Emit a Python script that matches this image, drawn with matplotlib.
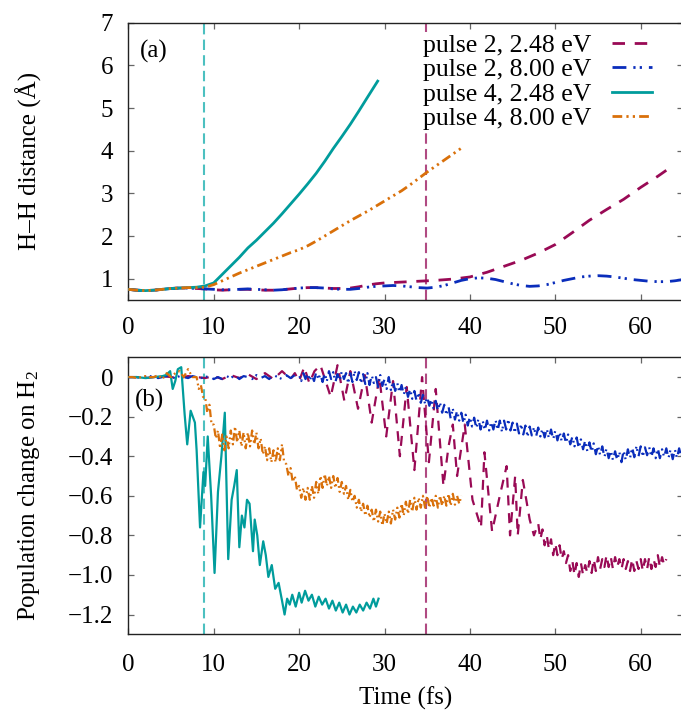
import numpy as np
import matplotlib
matplotlib.use("Agg")
import matplotlib.pyplot as plt

plt.rcParams["font.family"] = ["Liberation Serif", "DejaVu Serif"]
plt.rcParams["mathtext.fontset"] = "custom"
plt.rcParams["mathtext.rm"] = "Liberation Serif"
plt.rcParams["mathtext.default"] = "regular"

MAROON = "#990a55"
BLUE = "#0a2dbb"
TEAL = "#009c9c"
ORANGE = "#d9700a"

LABELS = ["pulse 2, 2.48 eV", "pulse 2, 8.00 eV", "pulse 4, 2.48 eV", "pulse 4, 8.00 eV"]
MARK_TIMES = [8.9, 34.9]          # dashed vertical markers (fs)

# ---- panel (a): H-H distance (Angstrom) ----
a_p2_low_t = [0, 1, 2, 3, 4, 5, 6, 7, 8, 9, 10, 11, 12, 13, 14, 15, 16, 17, 18, 19,
              20, 21, 22, 23, 24, 25, 26, 27, 28, 29, 30, 32, 34, 36, 38, 40, 42, 44,
              46, 48, 50, 52, 54, 56, 58, 60, 62, 63]
a_p2_low = [0.75, 0.73, 0.72, 0.73, 0.75, 0.77, 0.78, 0.78, 0.77, 0.76, 0.74, 0.73,
            0.74, 0.75, 0.75, 0.74, 0.73, 0.73, 0.74, 0.76, 0.78, 0.79, 0.79, 0.78,
            0.77, 0.77, 0.78, 0.81, 0.85, 0.88, 0.90, 0.92, 0.94, 0.96, 0.99, 1.04,
            1.15, 1.29, 1.43, 1.60, 1.80, 2.08, 2.37, 2.62, 2.86, 3.14, 3.40, 3.54]

a_p2_high_t = list(range(0, 66))
a_p2_high = [0.75, 0.73, 0.72, 0.73, 0.75, 0.77, 0.78, 0.78, 0.77, 0.76, 0.75, 0.74,
             0.74, 0.75, 0.76, 0.75, 0.74, 0.73, 0.74, 0.76, 0.78, 0.79, 0.79, 0.78,
             0.76, 0.75, 0.75, 0.77, 0.80, 0.82, 0.83, 0.84, 0.83, 0.81, 0.79, 0.78,
             0.80, 0.84, 0.90, 0.96, 1.00, 1.02, 1.01, 0.98, 0.93, 0.88, 0.84, 0.82,
             0.83, 0.86, 0.91, 0.96, 1.00, 1.04, 1.06, 1.07, 1.06, 1.04, 1.01, 0.98,
             0.96, 0.94, 0.93, 0.93, 0.95, 0.98]

a_p4_low_t = [0, 1, 2, 3, 4, 5, 6, 7, 8, 9, 10, 11, 12, 13, 14, 15, 16, 17, 18, 19,
              20, 21, 22, 23, 24, 25, 26, 27, 28, 29.2]
a_p4_low = [0.75, 0.73, 0.72, 0.73, 0.75, 0.77, 0.78, 0.79, 0.80, 0.83, 0.90, 1.10,
            1.30, 1.50, 1.72, 1.90, 2.10, 2.30, 2.52, 2.75, 2.98, 3.22, 3.47, 3.75,
            4.05, 4.33, 4.62, 4.93, 5.25, 5.63]

a_p4_high_t = list(range(0, 40))
a_p4_high = [0.75, 0.73, 0.72, 0.73, 0.75, 0.77, 0.78, 0.79, 0.79, 0.80, 0.86, 0.95,
             1.04, 1.13, 1.21, 1.29, 1.37, 1.45, 1.53, 1.61, 1.68, 1.77, 1.88, 2.00,
             2.12, 2.24, 2.36, 2.47, 2.58, 2.70, 2.82, 2.94, 3.06, 3.20, 3.35, 3.50,
             3.64, 3.78, 3.92, 4.06]

# ---- panel (b): population change on H2 ----
b_p2_low_t = ([0, 1, 2, 3, 4, 5, 6, 7, 8, 9, 10, 11, 12, 13, 14, 15, 16, 17, 18, 19,
               19.5, 20, 20.6, 21.2, 21.8, 22.5, 23.1, 23.7, 24.5, 25.3, 26.0, 26.9,
               27.7, 28.5, 29.4, 30.2, 31.0, 31.8, 32.6, 33.5, 34.4, 35.2, 36.0, 36.9,
               37.5, 38.0, 38.5, 39.4, 40.3, 41.3, 41.7, 42.6, 43.5, 44.3, 44.7, 45.3,
               45.6, 46.2, 46.6, 47.0, 47.5]
              + [48 + 0.25 * i for i in range(61)])
b_p2_low = [0.0, 0.0, -0.005, 0.0, 0.005, 0.0, -0.005, 0.005, 0.0, -0.005, 0.005,
            -0.01, 0.01, -0.005, 0.015, -0.01, 0.02, -0.01, 0.03, -0.01,
            0.02, -0.02, 0.05, -0.03, 0.03, 0.06, -0.02, -0.10, 0.06, -0.12, 0.03,
            -0.16, 0.01, -0.23, 0.0, -0.30, -0.02, -0.40, -0.05, -0.47, 0.0, -0.43,
            -0.06, -0.55, -0.35, -0.24, -0.50, -0.24, -0.62, -0.76, -0.38, -0.78,
            -0.60, -0.45, -0.80, -0.50, -0.80, -0.52, -0.62, -0.72, -0.80,
            -0.74, -0.82, -0.77, -0.85,  -0.80, -0.87, -0.82, -0.90,
            -0.84, -0.90, -0.85, -0.92,  -0.88, -0.94, -0.90, -0.98,
            -0.93, -1.00, -0.94, -1.01,  -0.94, -1.00, -0.95, -0.99,
            -0.93, -0.99, -0.92, -0.98,  -0.91, -0.97, -0.92, -0.96,
            -0.90, -0.96, -0.91, -0.97,  -0.91, -0.96, -0.92, -0.97,
            -0.92, -0.97, -0.93, -0.98,  -0.92, -0.98, -0.93, -0.97,
            -0.92, -0.98, -0.92, -0.97,  -0.91, -0.97, -0.92, -0.96,
            -0.90, -0.96, -0.91, -0.95,  -0.92]

b_p2_high_t = [i * 0.5 for i in range(40)] + [20 + 0.25 * i for i in range(181)]
b_p2_high = [0.0, 0.0, 0.0, -0.005, 0.0, 0.005, 0.0, -0.005, 0.0, 0.005,
             0.0, -0.005, 0.005, 0.0, -0.005, 0.005, 0.0, -0.005, 0.0, 0.005,
             -0.01, 0.0, -0.01, 0.005, -0.005, 0.01, -0.01, 0.005, 0.0, -0.01,
             0.01, -0.005, 0.005, -0.01, 0.01, 0.0, -0.01, 0.01, -0.005, 0.01,
             0.01, -0.02, 0.02, -0.01,  0.02, -0.015, 0.01, -0.02,
             0.025, -0.01, 0.015, -0.025,  0.02, -0.02, 0.03, -0.01,
             0.025, -0.025, 0.015, -0.02,  0.03, -0.01, 0.02, -0.03,
             0.02, -0.025, 0.03, -0.015,  0.025, -0.03, 0.015, -0.035,
             0.02, -0.04, 0.01, -0.03,  0.0, -0.05, 0.01, -0.045,
             -0.01, -0.06, 0.0, -0.065,  -0.02, -0.07, -0.03, -0.08,
             -0.04, -0.09, -0.05, -0.10,  -0.06, -0.11, -0.07, -0.12,
             -0.08, -0.13, -0.09, -0.135,  -0.10, -0.145, -0.11, -0.16,
             -0.12, -0.17, -0.13, -0.18,  -0.14, -0.19, -0.15, -0.21,
             -0.16, -0.215, -0.17, -0.22,  -0.18, -0.235, -0.19, -0.245,
             -0.20, -0.25, -0.205, -0.26,  -0.21, -0.265, -0.22, -0.27,
             -0.22, -0.27, -0.225, -0.265,  -0.215, -0.27, -0.22, -0.275,
             -0.22, -0.265, -0.215, -0.27,  -0.23, -0.28, -0.235, -0.285,
             -0.24, -0.29, -0.245, -0.30,  -0.25, -0.295, -0.255, -0.30,
             -0.255, -0.30, -0.26, -0.305,  -0.26, -0.31, -0.265, -0.315,
             -0.27, -0.32, -0.275, -0.325,  -0.285, -0.335, -0.29, -0.34,
             -0.30, -0.35, -0.305, -0.36,  -0.315, -0.365, -0.32, -0.375,
             -0.33, -0.38, -0.335, -0.39,  -0.345, -0.395, -0.35, -0.405,
             -0.36, -0.41, -0.37, -0.42,  -0.375, -0.42, -0.38, -0.43,
             -0.37, -0.42, -0.365, -0.41,  -0.355, -0.405, -0.35, -0.40,
             -0.35, -0.40, -0.355, -0.395,  -0.355, -0.405, -0.36, -0.41,
             -0.36, -0.41, -0.365, -0.405,  -0.36, -0.41, -0.365, -0.415,
             -0.365, -0.41, -0.36, -0.405,  -0.37]

b_p4_low_t = [0, 1, 2, 3, 4, 4.4, 4.9, 5.2, 5.5, 5.8, 6.2, 6.6, 6.9, 7.3, 7.8, 8.0,
              8.4, 8.8, 9.0, 9.3, 9.7, 10.1, 10.5, 10.9, 11.3, 11.7, 12.1, 12.4, 12.7,
              13.0, 13.3, 13.6, 13.9, 14.2, 14.6, 14.8, 15.1, 15.4, 15.8, 16.1, 16.4,
              16.8, 17.2, 17.6, 18.0, 18.3, 18.6, 18.9, 19.2, 19.6, 20.0, 20.3, 20.7,
              21.1, 21.5, 21.9, 22.3, 22.7, 23.1, 23.5, 23.9, 24.3, 24.7, 25.1, 25.5,
              25.9, 26.3, 26.7, 27.1, 27.5, 27.9, 28.3, 28.7, 29.0, 29.3]
b_p4_low = [0.0, 0.0, -0.005, 0.0, 0.005, 0.01, 0.03, -0.06, -0.02, 0.04, 0.05, -0.19,
            -0.34, -0.17, -0.23, -0.37, -0.76, -0.48, -0.55, -0.30, -0.60, -0.99,
            -0.58, -0.40, -0.18, -0.92, -0.62, -0.55, -0.47, -0.86, -0.70, -0.76,
            -0.62, -0.64, -0.88, -0.72, -0.80, -0.95, -0.83, -0.90, -1.01, -0.95,
            -1.07, -1.04, -1.13, -1.20, -1.12, -1.15, -1.10, -1.16, -1.09, -1.14,
            -1.08, -1.13, -1.10, -1.16, -1.11, -1.15, -1.12, -1.17, -1.13, -1.18,
            -1.14, -1.19, -1.15, -1.20, -1.16, -1.19, -1.15, -1.18, -1.14, -1.17,
            -1.12, -1.16, -1.12]

b_p4_high_t = [i * 0.5 for i in range(16)] + [8 + 0.25 * i for i in range(125)]
b_p4_high = [0.0, 0.0, -0.005, 0.0, 0.005, 0.0, 0.0, 0.01, -0.01, 0.02, 0.0, 0.02,
             0.03, 0.0, 0.04, 0.0,
             0.0, -0.06, -0.04, -0.10,  -0.10, -0.18, -0.14, -0.24,
             -0.24, -0.31, -0.27, -0.36,  -0.29, -0.37, -0.30, -0.36,
             -0.27, -0.34, -0.25, -0.33,  -0.27, -0.35, -0.28, -0.36,
             -0.28, -0.35, -0.27, -0.34,  -0.28, -0.36, -0.31, -0.39,
             -0.35, -0.42, -0.36, -0.43,  -0.37, -0.43, -0.36, -0.42,
             -0.34, -0.43, -0.44, -0.50,  -0.46, -0.53, -0.50, -0.57,
             -0.55, -0.61, -0.56, -0.62,  -0.56, -0.62, -0.55, -0.61,
             -0.53, -0.59, -0.50, -0.56,  -0.49, -0.55, -0.50, -0.56,
             -0.50, -0.56, -0.51, -0.58,  -0.53, -0.59, -0.55, -0.62,
             -0.57, -0.63, -0.60, -0.66,  -0.62, -0.68, -0.64, -0.70,
             -0.65, -0.71, -0.67, -0.73,  -0.67, -0.73, -0.68, -0.75,
             -0.69, -0.74, -0.68, -0.74,  -0.67, -0.72, -0.66, -0.71,
             -0.64, -0.70, -0.63, -0.69,  -0.62, -0.68, -0.61, -0.67,
             -0.61, -0.66, -0.60, -0.66,  -0.60, -0.66, -0.61, -0.65,
             -0.60, -0.66, -0.60, -0.65,  -0.60, -0.65, -0.59, -0.65,
             -0.59, -0.645, -0.60, -0.64,  -0.60]

STYLES = [
    dict(color=MAROON, dashes=(4.5, 3.5)),
    dict(color=BLUE, dashes=(5, 2.5, 0.8, 1.5, 0.8, 2.5)),
    dict(color=TEAL),
    dict(color=ORANGE, dashes=(3.5, 1.5, 0.8, 1.5, 0.8, 1.5)),
]
MARK_COLORS = ["#4cc0c0", "#b04a82"]

W, H = 681, 713
fig = plt.figure(figsize=(W / 100, H / 100), dpi=100, facecolor="white")
ax_a = fig.add_axes([128.3 / W, 1 - 300 / H, 555.1 / W, 277.3 / H])
ax_b = fig.add_axes([128.3 / W, 1 - 634.3 / H, 555.1 / W, 277.0 / H])


def style_axis(ax, pad_x):
    for s in ax.spines.values():
        s.set_color("#222222")
        s.set_linewidth(1.0)
    ax.tick_params(direction="in", top=True, right=True, length=4.5, width=0.9,
                   color="#666666", labelsize=18)
    ax.tick_params(axis="x", pad=pad_x)
    ax.tick_params(axis="y", pad=11)
    ax.set_xlim(0, 65)
    ax.set_xticks(range(0, 61, 10))


for ax in (ax_a, ax_b):
    for tm, c in zip(MARK_TIMES, MARK_COLORS):
        ax.axvline(tm, color=c, lw=1.5, dashes=(5, 2.5), zorder=1)

series_a = [(a_p2_low_t, a_p2_low), (a_p2_high_t, a_p2_high),
            (a_p4_low_t, a_p4_low), (a_p4_high_t, a_p4_high)]
series_b = [(b_p2_low_t, b_p2_low), (b_p2_high_t, b_p2_high),
            (b_p4_low_t, b_p4_low), (b_p4_high_t, b_p4_high)]

for (t, v), st, lab in zip(series_a, STYLES, LABELS):
    ax_a.plot(t, v, lw=2.0, label=lab, zorder=3, **st)
for (t, v), st in zip(series_b, STYLES):
    ax_b.plot(t, v, lw=1.6, zorder=3, **st)

# panel (a)
style_axis(ax_a, 12)
ax_a.set_ylim(0.5, 7)
ax_a.set_yticks(range(1, 8))
ax_a.set_ylabel("H\u2013H distance (\u00c5)", fontsize=18)
ax_a.yaxis.set_label_coords(-0.155, 0.5)
ax_a.text(0.021, 0.898, "(a)", transform=ax_a.transAxes, fontsize=18,
          ha="left", va="center")
leg = ax_a.legend(loc="upper right", bbox_to_anchor=(0.948, 0.968), fontsize=18.5,
                  markerfirst=False, frameon=True, fancybox=False, framealpha=1,
                  borderpad=0.1, borderaxespad=0, labelspacing=0.05,
                  handlelength=1.55, handletextpad=0.8)
leg.get_frame().set_linewidth(0)
leg.get_frame().set_facecolor("white")
leg.set_zorder(5)

# panel (b)
style_axis(ax_b, 14)
ax_b.set_ylim(-1.3, 0.1)
b_ticks = [0, -0.2, -0.4, -0.6, -0.8, -1.0, -1.2]
ax_b.set_yticks(b_ticks)
ax_b.set_yticklabels(["0"] + [f"\u2212{abs(x):.1f}" for x in b_ticks[1:]])
ax_b.set_ylabel("Population change on H$_2$", fontsize=18)
ax_b.yaxis.set_label_coords(-0.155, 0.5)
ax_b.set_xlabel("Time (fs)", fontsize=18)
ax_b.xaxis.set_label_coords(0.5, -0.19)
ax_b.text(0.012, 0.846, "(b)", transform=ax_b.transAxes, fontsize=18,
          ha="left", va="center")

fig.savefig("out.png", dpi=100, facecolor="white")
